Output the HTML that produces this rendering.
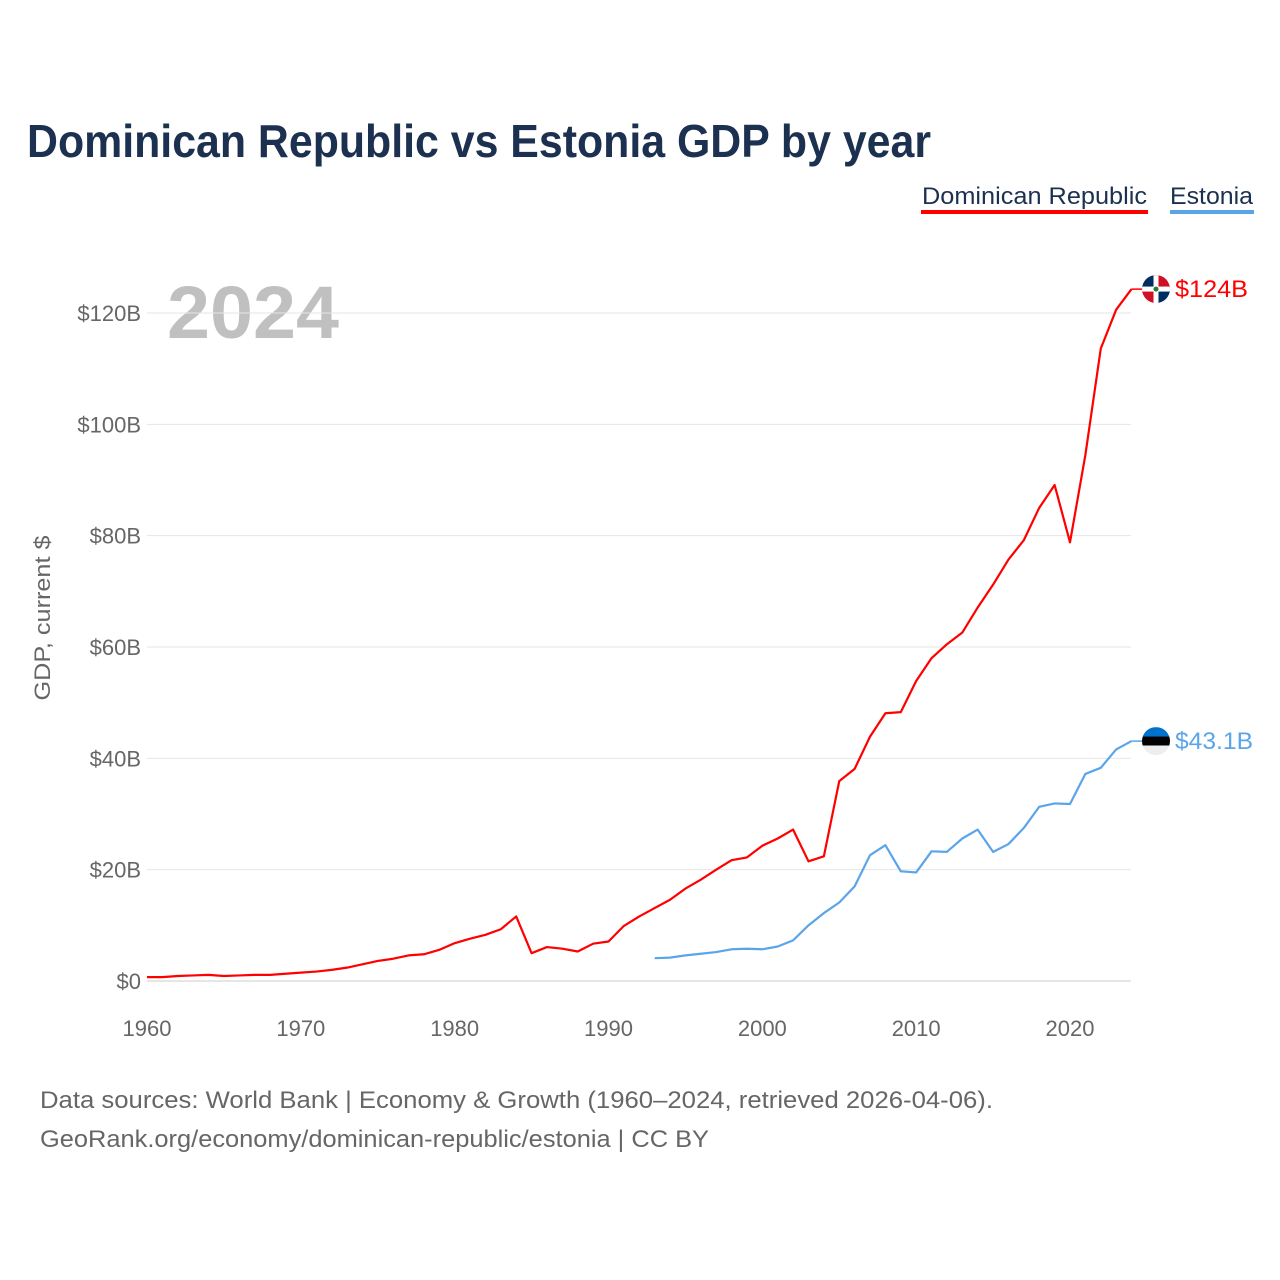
<!DOCTYPE html>
<html><head><meta charset="utf-8"><style>
body{margin:0;background:#fff;font-family:"Liberation Sans",sans-serif;}
#wrap{position:relative;width:1280px;height:1280px;overflow:hidden;}
</style></head><body>
<div id="wrap">
<svg id="chart" width="1280" height="1280">
<text x="27" y="157" font-size="46" font-weight="bold" fill="#1c3050" textLength="904" lengthAdjust="spacingAndGlyphs">Dominican Republic vs Estonia GDP by year</text>
<g>
<text x="922" y="204" font-size="24" fill="#1c3050" textLength="225" lengthAdjust="spacingAndGlyphs">Dominican Republic</text>
<rect x="921" y="210" width="227" height="4" fill="#ff0000"/></g>
<g>
<text x="1170" y="204" font-size="24" fill="#1c3050" textLength="83" lengthAdjust="spacingAndGlyphs">Estonia</text>
<rect x="1170" y="210" width="84" height="4" fill="#5aa5ea"/></g>
<text x="167" y="338" font-size="74" font-weight="bold" fill="#c0c0c0" textLength="172" lengthAdjust="spacingAndGlyphs">2024</text>
<text transform="translate(50,618) rotate(-90)" font-size="22" fill="#666" text-anchor="middle" textLength="165" lengthAdjust="spacingAndGlyphs">GDP, current $</text>
<g id="grid"></g><g id="series"></g>
<text x="40" y="1108" font-size="24" fill="#666" textLength="953" lengthAdjust="spacingAndGlyphs">Data sources: World Bank | Economy &amp; Growth (1960–2024, retrieved 2026-04-06).</text>
<text x="40" y="1147" font-size="24" fill="#666" textLength="669" lengthAdjust="spacingAndGlyphs">GeoRank.org/economy/dominican-republic/estonia | CC BY</text>
</svg></div>
<script>
const years=[];for(let y=1960;y<=2024;y++)years.push(y);
const drValues=[0.7,0.7,0.9,1.0,1.1,0.9,1.0,1.1,1.1,1.3,1.5,1.7,2.0,2.4,3.0,3.6,4.0,4.6,4.8,5.6,6.8,7.6,8.3,9.3,11.6,5.0,6.1,5.8,5.3,6.7,7.1,9.9,11.6,13.1,14.6,16.6,18.2,20.0,21.7,22.2,24.3,25.6,27.2,21.5,22.4,35.9,38.1,43.9,48.1,48.3,53.9,58.0,60.5,62.6,67.1,71.2,75.7,79.2,85.0,89.1,78.8,94.5,113.6,120.6,124.3];
const eeYears=[];for(let y=1993;y<=2024;y++)eeYears.push(y);
const eeValues=[4.1,4.2,4.6,4.9,5.2,5.7,5.8,5.7,6.2,7.3,10.0,12.2,14.1,17.0,22.6,24.4,19.7,19.5,23.3,23.2,25.6,27.2,23.2,24.6,27.5,31.3,31.9,31.8,37.2,38.3,41.6,43.1];
const yTicks=[0,20,40,60,80,100,120];
const yTickLabels=["$0","$20B","$40B","$60B","$80B","$100B","$120B"];
const xTicks=[1960,1970,1980,1990,2000,2010,2020];
const drLabel="$124B", eeLabel="$43.1B";
const NS="http://www.w3.org/2000/svg";
const X=y=>147+(y-1960)*(1070-147)/60;
const Y=v=>981-v*(981-313)/120;
function mk(tag,attrs,parent){const e=document.createElementNS(NS,tag);for(const k in attrs)e.setAttribute(k,attrs[k]);parent.appendChild(e);return e;}
const grid=document.getElementById('grid'),series=document.getElementById('series');
yTicks.forEach((v,i)=>{
 const l=mk('line',{x1:147,x2:1131,y1:Y(v),y2:Y(v),stroke:v===0?'#ccc':'#e6e6e6','stroke-width':1},grid);
 
 
 const t=mk('text',{x:141,y:Y(v)+8,'font-size':22,fill:'#666','text-anchor':'end'},grid);
 t.textContent=yTickLabels[i];
 
 
});
xTicks.forEach(y=>{
 const t=mk('text',{x:X(y),y:1036,'font-size':22,fill:'#666','text-anchor':'middle'},grid);
 t.textContent=y;
 
 
});
function line(xs,vs,color,name){
 const p=mk('polyline',{points:xs.map((y,i)=>X(y)+','+Y(vs[i])).join(' '),fill:'none',stroke:color,'stroke-width':2.2,'stroke-linejoin':'round'},series);
 
 
}
line(years,drValues,'#ff0000','dominican-republic-line');
line(eeYears,eeValues,'#5aa5ea','estonia-line');
const drv=drValues[drValues.length-1],eev=eeValues[eeValues.length-1];
mk('line',{x1:X(2024),x2:1150,y1:Y(drv),y2:Y(drv),stroke:'#ff0000','stroke-width':1.5},series);
mk('line',{x1:X(2024),x2:1150,y1:Y(eev),y2:Y(eev),stroke:'#5aa5ea','stroke-width':1.5},series);
const fx=1156;
let g=mk('g',{},series);


let cy=Y(drv);
let cp=mk('clipPath',{id:'c1'},g);mk('circle',{cx:fx,cy:cy,r:14},cp);
let gg=mk('g',{'clip-path':'url(#c1)'},g);
mk('rect',{x:fx-14,y:cy-14,width:14,height:14,fill:'#002d62'},gg);
mk('rect',{x:fx,y:cy-14,width:14,height:14,fill:'#ce1126'},gg);
mk('rect',{x:fx-14,y:cy,width:14,height:14,fill:'#ce1126'},gg);
mk('rect',{x:fx,y:cy,width:14,height:14,fill:'#002d62'},gg);
mk('rect',{x:fx-14,y:cy-2.5,width:28,height:5,fill:'#fff'},gg);
mk('rect',{x:fx-2.5,y:cy-14,width:5,height:28,fill:'#fff'},gg);
mk('circle',{cx:fx,cy:cy,r:2.5,fill:'#2a7a3b'},gg);
let t=mk('text',{x:1175,y:cy+8,'font-size':24,fill:'#ff0000',textLength:73,lengthAdjust:'spacingAndGlyphs'},series);
t.textContent=drLabel;


cy=Y(eev);
g=mk('g',{},series);


cp=mk('clipPath',{id:'c2'},g);mk('circle',{cx:fx,cy:cy,r:14},cp);
gg=mk('g',{'clip-path':'url(#c2)'},g);
mk('rect',{x:fx-14,y:cy-14,width:28,height:10,fill:'#0072ce'},gg);
mk('rect',{x:fx-14,y:cy-4.5,width:28,height:9,fill:'#000'},gg);
mk('rect',{x:fx-14,y:cy+4.5,width:28,height:10,fill:'#eee'},gg);
t=mk('text',{x:1175,y:cy+8,'font-size':24,fill:'#5aa5ea',textLength:78,lengthAdjust:'spacingAndGlyphs'},series);
t.textContent=eeLabel;


</script>
</body></html>
